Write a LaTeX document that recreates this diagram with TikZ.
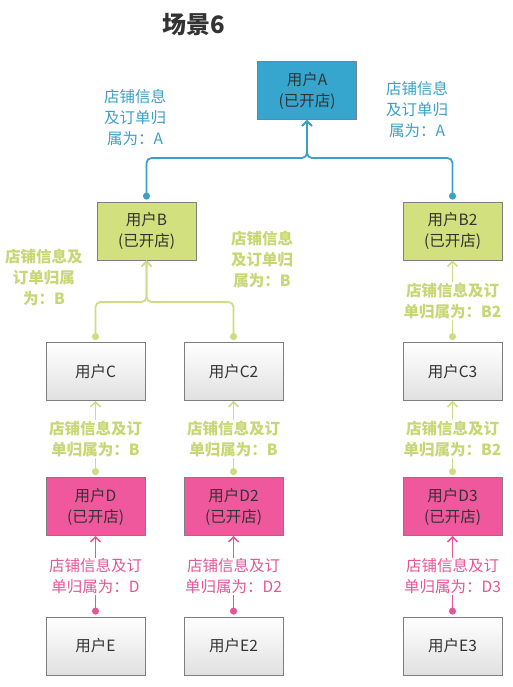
\documentclass[tikz,border=0pt]{standalone}
\usepackage{fontspec}
\setmainfont{Noto Sans CJK SC}
\usetikzlibrary{arrows.meta,calc}
\definecolor{cA}{HTML}{36A6CE}
\definecolor{cAline}{HTML}{3BA0C6}
\definecolor{cB}{HTML}{D2E07E}
\definecolor{cBline}{HTML}{CFDC85}
\definecolor{cBtext}{HTML}{C8D774}
\definecolor{cD}{HTML}{EF589D}
\definecolor{cDline}{HTML}{E65597}
\definecolor{bord}{HTML}{7F7F7F}
\definecolor{txt}{HTML}{333333}
\tikzset{
  x=1pt, y=-1pt,
  box/.style={draw=bord, line width=0.8pt, minimum width=99pt, minimum height=58pt,
    align=center, text=txt, font=\fontsize{15.5}{21}\selectfont, inner sep=0pt},
  boxA/.style={box, fill=cA},
  boxB/.style={box, fill=cB},
  boxD/.style={box, fill=cD},
  boxG/.style={box, top color=white, bottom color=black!12},
  lab/.style={align=center, font=\fontsize{15.5}{21}\selectfont, inner sep=1pt},
  labA/.style={lab, text=cAline},
  labB/.style={lab, text=cBtext, font=\fontsize{15.5}{21}\selectfont\bfseries},
  labD/.style={lab, text=cDline},
  conn/.style={line width=1.8pt, shorten <=2pt, {Circle[length=7pt]}-{Straight Barb[length=5pt,width=10pt,line width=1.5pt]}},
  connA/.style={conn, draw=cAline, rounded corners=5pt},
  connB/.style={conn, draw=cBline, rounded corners=5pt},
  connD/.style={conn, draw=cDline},
}
\begin{document}
\begin{tikzpicture}
\useasboundingbox[fill=white] (0,0) rectangle (512,687);
\node[font=\fontsize{24}{28}\selectfont\bfseries, text=txt] (title) at (194,25) {场景6};
% boxes
\node[boxA] (A) at (307,90.5) {用户A\\(已开店)};
\node[boxB] (B) at (146.5,231) {用户B\\(已开店)};
\node[boxB] (B2) at (452.5,231) {用户B2\\(已开店)};
\node[boxG] (C) at (95.5,371.5) {用户C};
\node[boxG] (C2) at (233.5,371.5) {用户C2};
\node[boxG] (C3) at (452.5,371.5) {用户C3};
\node[boxD] (D) at (95.5,506.5) {用户D\\(已开店)};
\node[boxD] (D2) at (233.5,506.5) {用户D2\\(已开店)};
\node[boxD] (D3) at (452.5,506.5) {用户D3\\(已开店)};
\node[boxG] (E) at (95.5,646) {用户E};
\node[boxG] (E2) at (233.5,646) {用户E2};
\node[boxG] (E3) at (452.5,646) {用户E3};
% junctions
\coordinate (jA) at (307,158);
\coordinate (jB) at (146.5,302);
% A level
\draw[connA] (B.north) |- (jA) -- (A.south);
\draw[connA] (B2.north) |- (jA) -- (A.south);
\node[labA] (lA1) at (135,118) {店铺信息\\及订单归\\属为：A};
\node[labA] (lA2) at (417,110) {店铺信息\\及订单归\\属为：A};
% B level
\draw[connB] (C.north) |- (jB) -- (B.south);
\draw[connB] (C2.north) |- (jB) -- (B.south);
\node[labB] (lB1) at (44,277) {店铺信息及\\订单归属\\为：B};
\node[labB] (lB2) at (262,260) {店铺信息\\及订单归\\属为：B};
\draw[connB] (C3.north) -- node[labB, fill=white] (lB3) {店铺信息及订\\单归属为：B2} (B2.south);
% C-D level
\draw[connB] (D.north) -- node[labB, fill=white] (lC1) {店铺信息及订\\单归属为：B} (C.south);
\draw[connB] (D2.north) -- node[labB, fill=white] (lC2) {店铺信息及订\\单归属为：B} (C2.south);
\draw[connB] (D3.north) -- node[labB, fill=white] (lC3) {店铺信息及订\\单归属为：B2} (C3.south);
% D-E level
\draw[connD] (E.north) -- node[labD, fill=white] (lD1) {店铺信息及订\\单归属为：D} (D.south);
\draw[connD] (E2.north) -- node[labD, fill=white] (lD2) {店铺信息及订\\单归属为：D2} (D2.south);
\draw[connD] (E3.north) -- node[labD, fill=white] (lD3) {店铺信息及订\\单归属为：D3} (D3.south);
\end{tikzpicture}
\end{document}
